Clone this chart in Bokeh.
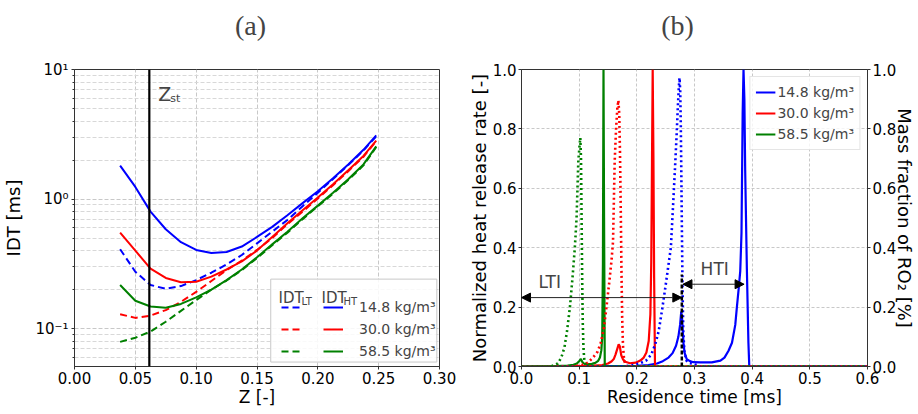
from bokeh.plotting import figure
from bokeh.layouts import row, column
from bokeh.models import (Range1d, LinearAxis, FixedTicker, NumeralTickFormatter, Legend, LegendItem,
                          Span, Label, Arrow, NormalHead)
from bokeh.embed import file_html
from bokeh.resources import INLINE

FONT = "DejaVu Sans"
SERIF = "Liberation Serif"
DARK = "#333333"

# ---------------- Panel (a): ignition delay times vs mixture fraction ----------------
z = [0.0375, 0.05, 0.0625, 0.075, 0.0875, 0.1, 0.1125, 0.125, 0.1375, 0.15,
     0.1625, 0.175, 0.1875, 0.2, 0.2125, 0.225, 0.2375, 0.248]
idt_ht_148 = [1.81, 1.24, 0.80, 0.585, 0.465, 0.405, 0.383, 0.39, 0.43, 0.51,
              0.61, 0.75, 0.93, 1.15, 1.45, 1.85, 2.40, 3.10]
idt_ht_300 = [0.55, 0.40, 0.29, 0.246, 0.228, 0.23, 0.252, 0.286, 0.33, 0.40,
              0.51, 0.65, 0.82, 1.03, 1.30, 1.67, 2.15, 2.83]
idt_ht_585 = [0.217, 0.164, 0.148, 0.145, 0.155, 0.174, 0.20, 0.237, 0.286, 0.355,
              0.447, 0.56, 0.71, 0.89, 1.12, 1.42, 1.85, 2.55]
idt_lt_148 = [0.41, 0.275, 0.217, 0.203, 0.213, 0.237, 0.27, 0.313, 0.37, 0.455,
              0.56, 0.69, 0.88, 1.12, 1.43, 1.83, 2.37, 3.05]
idt_lt_300 = [0.129, 0.121, 0.126, 0.139, 0.161, 0.192, 0.233, 0.283, 0.335, 0.405,
              0.50, 0.64, 0.80, 1.01, 1.28, 1.64, 2.12, 2.80]
idt_lt_585 = [0.079, 0.085, 0.095, 0.113, 0.137, 0.166, 0.20, 0.235, 0.283, 0.35,
              0.44, 0.55, 0.70, 0.88, 1.10, 1.40, 1.82, 2.52]
z_st = 0.0615
densities = ["14.8 kg/m³", "30.0 kg/m³", "58.5 kg/m³"]
colors = ["#0000ff", "#ff0000", "#008000"]
panel_titles = ["(a)", "(b)"]

z_ticks = [0.0, 0.05, 0.1, 0.15, 0.2, 0.25, 0.3]
idt_ticks = [0.1, 1, 10]
idt_tick_labels = {0.1: "10⁻¹", 1: "10⁰", 10: "10¹"}
idt_minor = [0.06, 0.07, 0.08, 0.09, 0.2, 0.3, 0.4, 0.5, 0.6, 0.7, 0.8, 0.9,
             2, 3, 4, 5, 6, 7, 8, 9]

# legend frame of panel (a), in data units
leg_box_z = (0.1613, 0.2978)
leg_box_idt = (0.0552, 0.241)

# ---------------- Panel (b): heat release rate and RO2 vs residence time ----------------
t_hrr_148 = [0.0, 0.2, 0.22, 0.235, 0.245, 0.255, 0.262, 0.268, 0.272, 0.275, 0.277, 0.2785,
             0.28, 0.281, 0.283, 0.2865, 0.292, 0.298, 0.31, 0.33, 0.345, 0.352, 0.359, 0.365,
             0.3707, 0.3735, 0.3765, 0.3793, 0.3815, 0.3835, 0.385, 0.3865, 0.3879, 0.3908,
             0.3935, 0.395, 0.4, 0.6]
hrr_148 = [0.0, 0.002, 0.005, 0.01, 0.018, 0.03, 0.045, 0.07, 0.1, 0.14, 0.185, 0.16,
           0.11, 0.075, 0.045, 0.025, 0.018, 0.0145, 0.014, 0.014, 0.02, 0.03, 0.053, 0.08,
           0.14, 0.2, 0.26, 0.32, 0.45, 0.85, 1.0, 0.9, 0.66, 0.33,
           0.08, 0.0, 0.0, 0.0]
t_hrr_300 = [0.0, 0.12, 0.14, 0.15, 0.156, 0.16, 0.163, 0.1665, 0.1685, 0.1705, 0.173, 0.176,
             0.18, 0.188, 0.198, 0.206, 0.212, 0.2166, 0.2206, 0.2235, 0.225, 0.2263, 0.2275,
             0.2288, 0.23, 0.2315, 0.24, 0.6]
hrr_300 = [0.0, 0.002, 0.005, 0.01, 0.017, 0.025, 0.04, 0.062, 0.075, 0.068, 0.038, 0.024,
           0.016, 0.011, 0.013, 0.02, 0.03, 0.047, 0.086, 0.176, 0.35, 0.69, 1.0,
           0.7, 0.3, 0.0, 0.0, 0.0]
t_hrr_585 = [0.0, 0.06, 0.08, 0.09, 0.096, 0.1, 0.103, 0.1055, 0.108, 0.114, 0.122, 0.128,
             0.133, 0.136, 0.1385, 0.14, 0.1412, 0.1422, 0.1432, 0.1444, 0.15, 0.6]
hrr_585 = [0.0, 0.001, 0.003, 0.006, 0.01, 0.018, 0.025, 0.015, 0.01, 0.008, 0.009, 0.012,
           0.019, 0.03, 0.055, 0.1, 0.35, 1.0, 0.5, 0.0, 0.0, 0.0]

t_ro2_148 = [0.0, 0.17, 0.19, 0.205, 0.216, 0.225, 0.232, 0.238, 0.2435, 0.249, 0.254, 0.259,
             0.2636, 0.2665, 0.269, 0.271, 0.2728, 0.274, 0.2752, 0.2762, 0.2772, 0.2782,
             0.2792, 0.2805, 0.2825, 0.286, 0.29, 0.296, 0.302, 0.31, 0.6]
ro2_148 = [0.0, 0.0, 0.003, 0.01, 0.02, 0.04, 0.075, 0.12, 0.187, 0.26, 0.33, 0.4,
           0.57, 0.68, 0.78, 0.87, 0.94, 0.972, 0.93, 0.82, 0.64, 0.45,
           0.27, 0.12, 0.05, 0.02, 0.012, 0.01, 0.006, 0.0, 0.0]
t_ro2_300 = [0.0, 0.09, 0.105, 0.115, 0.124, 0.132, 0.1375, 0.143, 0.1473, 0.152, 0.156, 0.1587,
             0.1616, 0.164, 0.1662, 0.168, 0.1695, 0.1708, 0.172, 0.1732, 0.1745, 0.176, 0.178,
             0.182, 0.6]
ro2_300 = [0.0, 0.0, 0.005, 0.013, 0.03, 0.05, 0.08, 0.13, 0.2, 0.28, 0.355, 0.42,
           0.69, 0.8, 0.87, 0.896, 0.85, 0.72, 0.55, 0.35, 0.17, 0.07, 0.02,
           0.0, 0.0]
t_ro2_585 = [0.0, 0.05, 0.056, 0.063, 0.069, 0.0745, 0.079, 0.084, 0.0885, 0.0925, 0.0955, 0.0985,
             0.1005, 0.102, 0.1032, 0.1042, 0.1052, 0.1062, 0.1075, 0.109, 0.112, 0.6]
ro2_585 = [0.0, 0.0, 0.004, 0.01, 0.03, 0.064, 0.12, 0.2, 0.3, 0.4, 0.5, 0.69,
           0.74, 0.77, 0.7, 0.5, 0.3, 0.15, 0.06, 0.02, 0.0, 0.0]

lti_time = 0.278   # low-temperature ignition of 14.8 kg/m3 case
hti_time = 0.386   # high-temperature ignition of 14.8 kg/m3 case
lti_marker_top = 0.31
lti_arrow_level = 0.232
hti_arrow_level = 0.277

t_ticks = [0.0, 0.1, 0.2, 0.3, 0.4, 0.5, 0.6]
v_ticks = [0.0, 0.2, 0.4, 0.6, 0.8, 1.0]

STRIP_H = 60          # height of the strip carrying the panel letters
MAIN_H = 414 - STRIP_H


def style_axis(ax, tick_size="15px", label_size="17px", standoff=2, label_standoff=0):
    ax.major_label_text_font = FONT
    ax.major_label_text_font_size = tick_size
    ax.major_label_text_color = "black"
    ax.axis_label_text_font = FONT
    ax.axis_label_text_font_size = label_size
    ax.axis_label_text_font_style = "normal"
    ax.axis_label_text_color = "black"
    ax.major_tick_out = 3
    ax.major_tick_in = 0
    ax.minor_tick_out = 2
    ax.minor_tick_in = 0
    ax.major_label_standoff = standoff
    ax.axis_label_standoff = label_standoff
    ax.axis_line_color = DARK
    ax.major_tick_line_color = DARK
    ax.minor_tick_line_color = DARK


# ================= strip with the panel letters =================
strip = figure(width=918, height=STRIP_H, x_range=Range1d(0, 918), y_range=Range1d(0, STRIP_H),
               title=None, output_backend="svg", toolbar_location=None, min_border=0,
               x_axis_location=None, y_axis_location=None)
strip.outline_line_color = None
strip.xgrid.visible = False
strip.ygrid.visible = False
for txt, cx in zip(panel_titles, [250, 677]):
    strip.add_layout(Label(x=cx, y=STRIP_H - 25, x_units="screen", y_units="screen", text=txt,
                           text_font=SERIF, text_font_size="28px", text_align="center",
                           text_baseline="alphabetic"))

# ================= Figure (a) =================
pa = figure(width=460, height=MAIN_H, x_range=Range1d(0, 0.3), y_range=Range1d(0.051, 10),
            y_axis_type="log", title=None, output_backend="svg", toolbar_location=None,
            min_border_left=73, min_border_right=21, min_border_top=69 - STRIP_H,
            min_border_bottom=48)
pa.outline_line_color = DARK
pa.outline_line_width = 1

pa.xaxis.ticker = FixedTicker(ticks=z_ticks)
pa.xaxis.formatter = NumeralTickFormatter(format="0.00")
pa.yaxis.ticker = FixedTicker(ticks=idt_ticks, minor_ticks=idt_minor)
pa.yaxis.major_label_overrides = idt_tick_labels
pa.xaxis.axis_label = "Z [-]"
pa.yaxis.axis_label = "IDT [ms]"
style_axis(pa.xaxis[0], label_size="17px", standoff=2, label_standoff=0)
style_axis(pa.yaxis[0], label_size="18px", standoff=3, label_standoff=8)

pa.xgrid.grid_line_color = "#c8c8c8"
pa.xgrid.grid_line_dash = "4 2"
pa.ygrid.grid_line_color = "#c8c8c8"
pa.ygrid.grid_line_dash = "4 2"
pa.ygrid.minor_grid_line_color = "#d8d8d8"
pa.ygrid.minor_grid_line_dash = "4 2"

lt_series = [idt_lt_148, idt_lt_300, idt_lt_585]
ht_series = [idt_ht_148, idt_ht_300, idt_ht_585]
lt_r, ht_r = [], []
for lt, ht, c in zip(lt_series, ht_series, colors):
    lt_r.append(pa.line(z, lt, line_color=c, line_width=2, line_dash="7 4"))
    ht_r.append(pa.line(z, ht, line_color=c, line_width=2))

pa.add_layout(Span(location=z_st, dimension="height", line_color="black", line_width=2.2))
pa.add_layout(Label(x=z_st, y=10, x_offset=9, y_offset=-24, text="Z", text_font=FONT,
                    text_font_size="19px", text_baseline="alphabetic"))
pa.add_layout(Label(x=z_st, y=10, x_offset=21, y_offset=-29, text="st", text_font=FONT,
                    text_font_size="11px", text_baseline="alphabetic"))

# legend frame above the curves, below the legend entries
pa.quad(left=[leg_box_z[0]], right=[leg_box_z[1]], bottom=[leg_box_idt[0]], top=[leg_box_idt[1]],
        fill_color="white", fill_alpha=0.85, line_color="#c8c8c8", line_width=1, level="guide")
for txt, x, y, fs in [("IDT", 204, 69, "15px"), ("LT", 227, 65, "10px"),
                      ("IDT", 247, 69, "15px"), ("HT", 269, 65, "10px")]:
    pa.add_layout(Label(x=x, y=y, x_units="screen", y_units="screen", text=txt,
                        text_font=FONT, text_font_size=fs, text_baseline="alphabetic"))

leg_lt = Legend(items=[LegendItem(label=" ", renderers=[r]) for r in lt_r],
                location=(207, 6), glyph_width=20, glyph_height=18, label_height=18,
                spacing=4, padding=0, label_standoff=0, margin=0,
                background_fill_alpha=0, border_line_alpha=0,
                label_text_font=FONT, label_text_font_size="14px")
leg_ht = Legend(items=[LegendItem(label=d, renderers=[r]) for d, r in zip(densities, ht_r)],
                location=(249, 6), glyph_width=20, glyph_height=18, label_height=18,
                spacing=4, padding=0, label_standoff=16, margin=0,
                background_fill_alpha=0, border_line_alpha=0,
                label_text_font=FONT, label_text_font_size="14px")
pa.add_layout(leg_lt)
pa.add_layout(leg_ht)

# ================= Figure (b) =================
pb = figure(width=458, height=MAIN_H, x_range=Range1d(0, 0.6), y_range=Range1d(0, 1),
            title=None, output_backend="svg", toolbar_location=None,
            min_border_left=61, min_border_right=48, min_border_top=69 - STRIP_H,
            min_border_bottom=48)
pb.outline_line_color = DARK
pb.outline_line_width = 1
pb.extra_y_ranges = {"ro2": Range1d(0, 1)}
right_axis = LinearAxis(y_range_name="ro2", axis_label="Mass fraction of RO₂ [%]",
                        ticker=FixedTicker(ticks=v_ticks),
                        formatter=NumeralTickFormatter(format="0.0"))
pb.add_layout(right_axis, "right")

pb.xaxis.ticker = FixedTicker(ticks=t_ticks)
pb.xaxis.formatter = NumeralTickFormatter(format="0.0")
pb.yaxis[0].ticker = FixedTicker(ticks=v_ticks)
pb.yaxis[0].formatter = NumeralTickFormatter(format="0.0")
pb.xaxis.axis_label = "Residence time [ms]"
pb.yaxis[0].axis_label = "Normalized heat release rate [-]"
style_axis(pb.xaxis[0], label_size="17px", standoff=2, label_standoff=0)
style_axis(pb.yaxis[0], label_size="18px", standoff=2, label_standoff=0)
style_axis(right_axis, label_size="18px", standoff=2, label_standoff=-5)

pb.xgrid.grid_line_color = "#c8c8c8"
pb.xgrid.grid_line_dash = "3 2"
pb.ygrid.grid_line_color = "#c8c8c8"
pb.ygrid.grid_line_dash = "3 2"

hrr_t = [t_hrr_148, t_hrr_300, t_hrr_585]
hrr_v = [hrr_148, hrr_300, hrr_585]
ro2_t = [t_ro2_148, t_ro2_300, t_ro2_585]
ro2_v = [ro2_148, ro2_300, ro2_585]
hrr_r = []
for tt, vv, c in zip(hrr_t, hrr_v, colors):
    hrr_r.append(pb.line(tt, vv, line_color=c, line_width=2.2))
for tt, vv, c in zip(ro2_t, ro2_v, colors):
    pb.line(tt, vv, line_color=c, line_width=2.6, line_dash="2 3", y_range_name="ro2")

pb.segment(x0=[lti_time], y0=[0.0], x1=[lti_time], y1=[lti_marker_top],
           line_color="black", line_width=2.5, line_dash="4 2")

pb.add_layout(Arrow(start=NormalHead(size=9, fill_color="black", line_color="black"),
                    end=NormalHead(size=9, fill_color="black", line_color="black"),
                    x_start=0.0, y_start=lti_arrow_level, x_end=lti_time, y_end=lti_arrow_level,
                    line_color="#222222", line_width=1))
pb.add_layout(Arrow(start=NormalHead(size=9, fill_color="black", line_color="black"),
                    end=NormalHead(size=9, fill_color="black", line_color="black"),
                    x_start=lti_time + 0.002, y_start=hti_arrow_level, x_end=hti_time,
                    y_end=hti_arrow_level, line_color="#222222", line_width=1))
pb.add_layout(Label(x=0.049, y=lti_arrow_level, y_offset=6, text="LTI", text_font=FONT,
                    text_font_size="17px", text_align="center", text_baseline="bottom"))
pb.add_layout(Label(x=0.335, y=hti_arrow_level, y_offset=5, text="HTI", text_font=FONT,
                    text_font_size="17px", text_align="center", text_baseline="bottom"))

leg_b = Legend(items=[LegendItem(label=d, renderers=[r]) for d, r in zip(densities, hrr_r)],
               location="top_right", margin=7, padding=5, spacing=1, glyph_width=20,
               glyph_height=20, label_height=20, label_standoff=2,
               label_text_font=FONT, label_text_font_size="14px",
               border_line_color="#cccccc", background_fill_alpha=0.8)
pb.add_layout(leg_b)

layout = column(strip, row(pa, pb))
open("out.html", "w").write(file_html(layout, INLINE))
